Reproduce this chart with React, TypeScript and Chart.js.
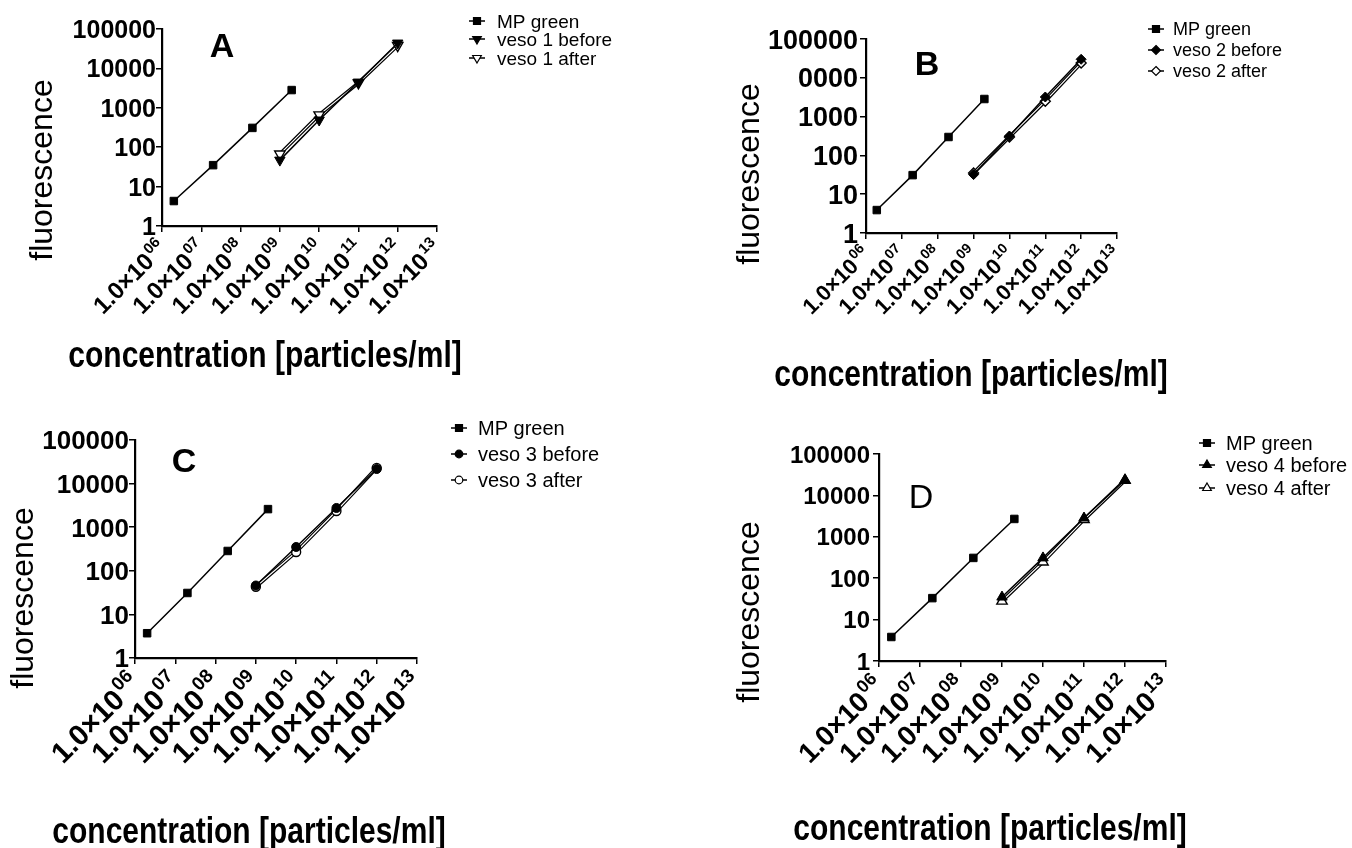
import React, { useEffect, useRef } from "react";
import { Chart, registerables } from "chart.js";

Chart.register(...registerables);

// ---------------- data ----------------
const xTickValues = [1e6, 1e7, 1e8, 1e9, 1e10, 1e11, 1e12, 1e13];
const xTickBase = "1.0×10";
const xTickExponents = ["06", "07", "08", "09", "10", "11", "12", "13"];
const yTickValues = [1, 10, 100, 1000, 10000, 100000];
const yTickLabels = ["1", "10", "100", "1000", "10000", "100000"];
const yTickLabelsB = ["1", "10", "100", "1000", "0000", "100000"];

const xTitle = "concentration [particles/ml]";
const yTitle = "fluorescence";

const mpConcentrations = [2e6, 2e7, 2e8, 2e9];
const vesoConcentrations = [1e9, 1e10, 1e11, 1e12];

const namesA = ["MP green", "veso 1 before", "veso 1 after"];
const mpGreenA = [4.3, 35, 309, 2820];
const veso1Before = [47, 490, 4500, 44000];
const veso1After = [67, 660, 4300, 38000];

const namesB = ["MP green", "veso 2 before", "veso 2 after"];
const mpGreenB = [3.9, 31, 298, 2840];
const veso2Before = [32, 316, 3200, 30000];
const veso2After = [35, 300, 2500, 24000];

const namesC = ["MP green", "veso 3 before", "veso 3 after"];
const mpGreenC = [3.7, 31, 285, 2600];
const veso3Before = [46, 352, 2760, 21600];
const veso3After = [43, 270, 2350, 23000];

const namesD = ["MP green", "veso 4 before", "veso 4 after"];
const mpGreenD = [3.8, 33, 309, 2700];
const veso4Before = [35, 309, 2840, 23500];
const veso4After = [28, 246, 2600, 23000];

// ---------------- layout / style ----------------
const FONT = '"Liberation Sans", Arial, Helvetica, sans-serif';

type MarkerKind = "square" | "triangleDown" | "diamond" | "circle" | "triangle";

interface PanelSpec {
  letter: string;
  letterBold: boolean;
  names: string[];
  markers: MarkerKind[];
  mp: number[];
  before: number[];
  after: number[];
  yLabels: string[];
  canvas: { x: number; y: number; w: number; h: number };
  area: { l: number; t: number; r: number; b: number };
  yTickFont: number;
  yLabelGap: number;
  xTickFont: number;
  xLabelDrop: number;
  yTitlePos: { x: number; y: number };
  xTitlePos: { x: number; y: number };
  letterPos: { x: number; y: number };
  legend: { markerX: number; textX: number; rows: number[]; font: number };
}

const panels: PanelSpec[] = [
  {
    letter: "A", letterBold: true, names: namesA,
    markers: ["square", "triangleDown", "triangleDown"],
    mp: mpGreenA, before: veso1Before, after: veso1After, yLabels: yTickLabels,
    canvas: { x: 0, y: 0, w: 676, h: 400 },
    area: { l: 162, t: 29, r: 437, b: 226 },
    yTickFont: 25, yLabelGap: 6, xTickFont: 24, xLabelDrop: 18,
    yTitlePos: { x: 43, y: 170 }, xTitlePos: { x: 265, y: 367 },
    letterPos: { x: 222, y: 57 },
    legend: { markerX: 477, textX: 497, rows: [21, 39, 58], font: 19 },
  },
  {
    letter: "B", letterBold: true, names: namesB,
    markers: ["square", "diamond", "diamond"],
    mp: mpGreenB, before: veso2Before, after: veso2After, yLabels: yTickLabelsB,
    canvas: { x: 676, y: 0, w: 676, h: 400 },
    area: { l: 866, t: 39, r: 1117, b: 233 },
    yTickFont: 27, yLabelGap: 8, xTickFont: 22, xLabelDrop: 17,
    yTitlePos: { x: 750, y: 174 }, xTitlePos: { x: 971, y: 386 },
    letterPos: { x: 927, y: 75 },
    legend: { markerX: 1156, textX: 1173, rows: [29, 50, 71], font: 18 },
  },
  {
    letter: "C", letterBold: true, names: namesC,
    markers: ["square", "circle", "circle"],
    mp: mpGreenC, before: veso3Before, after: veso3After, yLabels: yTickLabels,
    canvas: { x: 0, y: 400, w: 676, h: 448 },
    area: { l: 135, t: 440, r: 417, b: 658 },
    yTickFont: 26, yLabelGap: 6, xTickFont: 29, xLabelDrop: 20,
    yTitlePos: { x: 24, y: 598 }, xTitlePos: { x: 249, y: 843 },
    letterPos: { x: 184, y: 472 },
    legend: { markerX: 459, textX: 478, rows: [428, 454, 480], font: 20 },
  },
  {
    letter: "D", letterBold: false, names: namesD,
    markers: ["square", "triangle", "triangle"],
    mp: mpGreenD, before: veso4Before, after: veso4After, yLabels: yTickLabels,
    canvas: { x: 676, y: 400, w: 676, h: 448 },
    area: { l: 879, t: 454, r: 1166, b: 661 },
    yTickFont: 24, yLabelGap: 9, xTickFont: 28, xLabelDrop: 20,
    yTitlePos: { x: 750, y: 612 }, xTitlePos: { x: 990, y: 840 },
    letterPos: { x: 921, y: 508 },
    legend: { markerX: 1207, textX: 1226, rows: [443, 465, 488], font: 20 },
  },
];

function chartPointStyle(kind: MarkerKind) {
  switch (kind) {
    case "square": return { pointStyle: "rect", rotation: 0, radius: 5.3 };
    case "triangleDown": return { pointStyle: "triangle", rotation: 180, radius: 6 };
    case "diamond": return { pointStyle: "rectRot", rotation: 0, radius: 5 };
    case "circle": return { pointStyle: "circle", rotation: 0, radius: 4.5 };
    case "triangle": return { pointStyle: "triangle", rotation: 0, radius: 6 };
  }
}

function drawText(
  ctx: CanvasRenderingContext2D, s: string, x: number, y: number, font: string,
  align: CanvasTextAlign, baseline: CanvasTextBaseline, sy = 1, rot = 0
) {
  ctx.save();
  ctx.translate(x, y);
  if (rot) ctx.rotate(rot);
  if (sy !== 1) ctx.scale(1, sy);
  ctx.font = font;
  ctx.textAlign = align;
  ctx.textBaseline = baseline;
  ctx.fillStyle = "#000";
  ctx.fillText(s, 0, 0);
  ctx.restore();
}

function drawLegendMarker(ctx: CanvasRenderingContext2D, kind: MarkerKind, x: number, y: number, filled: boolean) {
  ctx.save();
  ctx.beginPath();
  if (kind === "square") {
    ctx.rect(x - 3.5, y - 3.5, 7, 7);
  } else if (kind === "triangle" || kind === "triangleDown") {
    const r = 5;
    const d = kind === "triangle" ? 1 : -1;
    ctx.moveTo(x, y - d * r);
    ctx.lineTo(x + r * 0.866, y + d * r / 2);
    ctx.lineTo(x - r * 0.866, y + d * r / 2);
    ctx.closePath();
  } else if (kind === "diamond") {
    const r = 4.5;
    ctx.moveTo(x, y - r);
    ctx.lineTo(x + r, y);
    ctx.lineTo(x, y + r);
    ctx.lineTo(x - r, y);
    ctx.closePath();
  } else {
    ctx.arc(x, y, 3.8, 0, Math.PI * 2);
  }
  ctx.fillStyle = filled ? "#000" : "#fff";
  ctx.fill();
  ctx.lineWidth = 1.2;
  ctx.strokeStyle = "#000";
  ctx.stroke();
  ctx.restore();
}

function makeTextPlugin(spec: PanelSpec) {
  return {
    id: "panelText" + spec.letter,
    afterDraw(chart: any) {
      const ctx: CanvasRenderingContext2D = chart.ctx;
      const ox = spec.canvas.x;
      const oy = spec.canvas.y;
      const area = chart.chartArea;
      const xs = chart.scales.x;
      const ys = chart.scales.y;

      // y tick labels
      const yf = spec.yTickFont;
      yTickValues.forEach((v, i) => {
        const py = ys.getPixelForValue(v);
        drawText(ctx, spec.yLabels[i], area.left - spec.yLabelGap, py + (0.716 * yf) / 2,
          `bold ${yf}px ${FONT}`, "right", "alphabetic");
      });

      // x tick labels (rotated, with superscript exponent)
      const xf = spec.xTickFont;
      const sf = Math.round(xf * 0.64);
      xTickValues.forEach((v, i) => {
        const px = xs.getPixelForValue(v);
        ctx.save();
        ctx.translate(px, area.bottom + spec.xLabelDrop);
        ctx.rotate(-Math.PI / 4);
        ctx.fillStyle = "#000";
        ctx.textAlign = "left";
        ctx.textBaseline = "alphabetic";
        ctx.font = `bold ${sf}px ${FONT}`;
        const wSup = ctx.measureText(xTickExponents[i]).width;
        ctx.font = `bold ${xf}px ${FONT}`;
        const wMain = ctx.measureText(xTickBase).width;
        const gap = xf * 0.06;
        const yb = (0.716 * xf) / 2;
        ctx.fillText(xTickBase, -(wSup + gap + wMain), yb);
        ctx.font = `bold ${sf}px ${FONT}`;
        ctx.fillText(xTickExponents[i], -wSup, yb - xf * 0.42);
        ctx.restore();
      });

      // axis titles
      drawText(ctx, yTitle, spec.yTitlePos.x - ox, spec.yTitlePos.y - oy, `32px ${FONT}`,
        "center", "middle", 1, -Math.PI / 2);
      drawText(ctx, xTitle, spec.xTitlePos.x - ox, spec.xTitlePos.y - oy, `bold 30px ${FONT}`,
        "center", "alphabetic", 1.2);

      // panel letter
      drawText(ctx, spec.letter, spec.letterPos.x - ox, spec.letterPos.y - oy,
        `${spec.letterBold ? "bold " : ""}34px ${FONT}`, "center", "alphabetic");

      // legend
      const lg = spec.legend;
      spec.names.forEach((name, i) => {
        const cy = lg.rows[i] - oy;
        const mx = lg.markerX - ox;
        ctx.save();
        ctx.strokeStyle = "#000";
        ctx.lineWidth = 1.5;
        ctx.beginPath();
        ctx.moveTo(mx - 8, cy);
        ctx.lineTo(mx + 8, cy);
        ctx.stroke();
        ctx.restore();
        drawLegendMarker(ctx, spec.markers[i], mx, cy, i < 2);
        drawText(ctx, name, lg.textX - ox, cy + (0.716 * lg.font) / 2, `${lg.font}px ${FONT}`,
          "left", "alphabetic");
      });
    },
  };
}

function Panel({ spec }: { spec: PanelSpec }) {
  const ref = useRef<HTMLCanvasElement>(null);
  const cv = spec.canvas;

  useEffect(() => {
    const canvas = ref.current;
    if (!canvas) return;
    const area = spec.area;
    const l = area.l - cv.x;
    const t = area.t - cv.y;
    const r = area.r - cv.x;
    const b = area.b - cv.y;
    const pts = (xsArr: number[], ysArr: number[]) => xsArr.map((x, i) => ({ x, y: ysArr[i] }));
    const mpS = chartPointStyle(spec.markers[0]);
    const beS = chartPointStyle(spec.markers[1]);
    const afS = chartPointStyle(spec.markers[2]);

    const axisCommon: any = {
      type: "logarithmic",
      ticks: { display: false },
      grid: {
        display: true, drawOnChartArea: false, drawTicks: true, tickLength: 6,
        color: "#000", lineWidth: 1.5,
      },
      border: { display: true, color: "#000", width: 2.2 },
    };

    const chart = new Chart(canvas, {
      type: "line",
      data: {
        datasets: [
          {
            label: spec.names[0], data: pts(mpConcentrations, spec.mp),
            borderColor: "#000", borderWidth: 1.5,
            pointStyle: mpS.pointStyle as any, pointRotation: mpS.rotation, pointRadius: mpS.radius,
            pointBackgroundColor: "#000", pointBorderColor: "#000", pointBorderWidth: 1, order: 0,
          },
          {
            label: spec.names[1], data: pts(vesoConcentrations, spec.before),
            borderColor: "#000", borderWidth: 1.5,
            pointStyle: beS.pointStyle as any, pointRotation: beS.rotation, pointRadius: beS.radius,
            pointBackgroundColor: "#000", pointBorderColor: "#000", pointBorderWidth: 1, order: 1,
          },
          {
            label: spec.names[2], data: pts(vesoConcentrations, spec.after),
            borderColor: "#fff", borderWidth: 1.2,
            pointStyle: afS.pointStyle as any, pointRotation: afS.rotation, pointRadius: afS.radius,
            pointBackgroundColor: "#fff", pointBorderColor: "#000", pointBorderWidth: 1.4, order: 2,
          },
          {
            label: spec.names[2] + " (outline)", data: pts(vesoConcentrations, spec.after),
            borderColor: "#000", borderWidth: 3.6, pointRadius: 0, order: 3,
          },
        ],
      },
      options: {
        animation: false,
        responsive: false,
        devicePixelRatio: 1,
        events: [],
        clip: false as any,
        layout: { padding: { left: l, top: t, right: cv.w - r, bottom: cv.h - b } },
        plugins: { legend: { display: false }, tooltip: { enabled: false }, title: { display: false } },
        scales: {
          x: {
            ...axisCommon, min: 1e6, max: 1e13,
            afterBuildTicks: (s: any) => { s.ticks = xTickValues.map((value) => ({ value })); },
            afterFit: (s: any) => { s.height = 0; },
          },
          y: {
            ...axisCommon, min: 1, max: 1e5,
            afterBuildTicks: (s: any) => { s.ticks = yTickValues.map((value) => ({ value })); },
            afterFit: (s: any) => { s.width = 0; },
          },
        },
      } as any,
      plugins: [makeTextPlugin(spec)],
    });
    return () => chart.destroy();
  }, [spec]);

  return (
    <canvas
      ref={ref}
      width={cv.w}
      height={cv.h}
      style={{ position: "absolute", left: cv.x, top: cv.y, width: cv.w, height: cv.h }}
    />
  );
}

export default function App() {
  return (
    <div style={{ position: "absolute", left: 0, top: 0, width: 1352, height: 848, overflow: "hidden", background: "#fff" }}>
      {panels.map((p) => (
        <Panel key={p.letter} spec={p} />
      ))}
    </div>
  );
}
